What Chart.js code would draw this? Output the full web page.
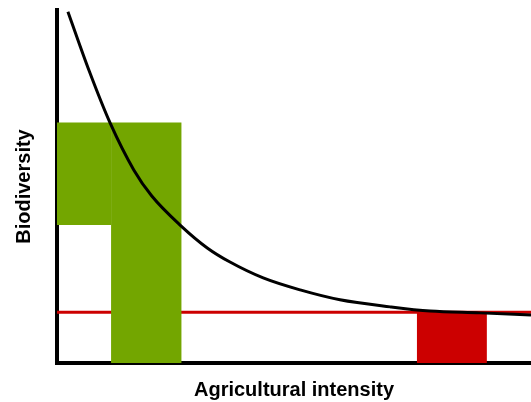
<!DOCTYPE html>
<html>
<head>
<meta charset="utf-8">
<script src="https://cdn.jsdelivr.net/npm/chart.js@4/dist/chart.umd.min.js"></script>
<style>
  html, body { margin: 0; padding: 0; background: #ffffff; }
  #wrap { width: 531px; height: 402px; }
</style>
</head>
<body>
<div id="wrap"><canvas id="c" width="531" height="402"></canvas></div>
<script>
// Curve: biodiversity vs agricultural intensity
const curveX = [0.23, 0.68, 1.12, 1.62, 2.00, 2.62, 3.17, 3.65, 4.35, 5.13, 5.97, 7.03, 7.87, 8.92, 10.0];
const curveY = [9.95, 8.27, 6.80, 5.47, 4.73, 3.88, 3.26, 2.86, 2.41, 2.07, 1.79, 1.59, 1.47, 1.42, 1.36];

// Green land-sparing block (two rectangles)
const greenUpperX = [0, 1.14];
const greenUpperTop = 6.81;
const greenUpperBottom = 3.91;
const greenColumnX = [1.14, 2.63];
const greenColumnTop = 6.81;

// Red threshold line and red block
const redLineX = [0, 10];
const redLevel = 1.44;
const redBlockX = [7.59, 9.07];

const xTitle = 'Agricultural intensity';
const yTitle = 'Biodiversity';

const GREEN = '#73a600';
const RED = '#cc0000';

function pts(xs, ys) { return xs.map((x, i) => ({ x: x, y: Array.isArray(ys) ? ys[i] : ys })); }

const datasets = [
  { // curve (on top)
    data: pts(curveX, curveY), borderColor: '#000000', borderWidth: 3,
    pointRadius: 0, fill: false, cubicInterpolationMode: 'monotone', showLine: true
  },
  { // red block
    data: pts(redBlockX, redLevel), borderWidth: 0, borderColor: 'rgba(0,0,0,0)',
    backgroundColor: RED, pointRadius: 0, fill: 'origin', showLine: true
  },
  { // green column
    data: pts(greenColumnX, greenColumnTop), borderWidth: 0, borderColor: 'rgba(0,0,0,0)',
    backgroundColor: GREEN, pointRadius: 0, fill: 'origin', showLine: true
  },
  { // red line
    data: pts(redLineX, redLevel), borderColor: RED, borderWidth: 3,
    pointRadius: 0, fill: false, showLine: true
  },
  { // green upper block
    data: pts(greenUpperX, greenUpperTop), borderWidth: 0, borderColor: 'rgba(0,0,0,0)',
    backgroundColor: GREEN, pointRadius: 0, fill: { value: greenUpperBottom }, showLine: true
  }
];

new Chart(document.getElementById('c'), {
  type: 'scatter',
  data: { datasets: datasets },
  options: {
    responsive: false,
    animation: false,
    devicePixelRatio: 1,
    layout: { padding: { left: 0, right: 0, top: 10, bottom: 0 } },
    plugins: { legend: { display: false }, tooltip: { enabled: false } },
    scales: {
      x: {
        type: 'linear', min: 0, max: 10,
        grid: { display: false, drawTicks: false },
        ticks: { display: false },
        border: { display: true, color: '#000000', width: 4 },
        title: {
          display: true, text: xTitle, color: '#000000',
          font: { family: '"Liberation Sans", Arial, sans-serif', size: 20, weight: 'bold', lineHeight: 1.2 },
          padding: { top: 15, bottom: 0 }
        }
      },
      y: {
        type: 'linear', min: 0, max: 10,
        grid: { display: false, drawTicks: false },
        ticks: { display: false },
        border: { display: true, color: '#000000', width: 4 },
        title: {
          display: true, text: yTitle, color: '#000000',
          font: { family: '"Liberation Sans", Arial, sans-serif', size: 20, weight: 'bold', lineHeight: 1.2 },
          padding: { top: 12.6, bottom: 20.4 }
        }
      }
    }
  }
});
</script>
</body>
</html>
